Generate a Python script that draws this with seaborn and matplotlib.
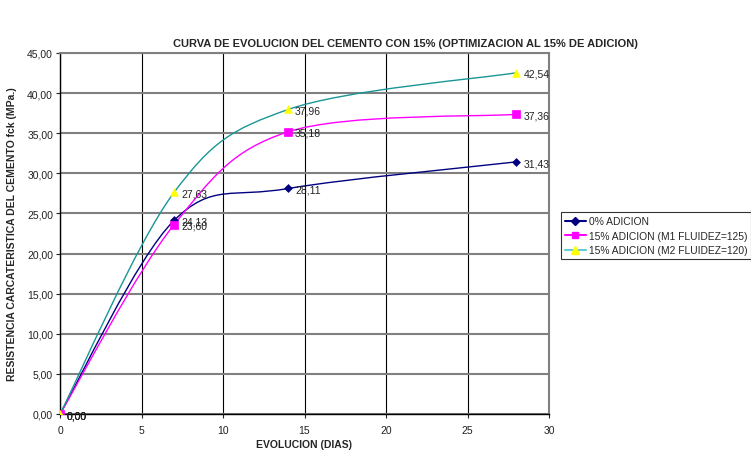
import numpy as np
import pandas as pd
import matplotlib
matplotlib.use("Agg")
import matplotlib.pyplot as plt
from matplotlib.path import Path
from matplotlib.patches import PathPatch
from matplotlib.lines import Line2D
import seaborn as sns

dias = [0, 7, 14, 28]
serie_0 = [0.00, 24.13, 28.11, 31.43]
serie_m1 = [0.00, 23.60, 35.18, 37.36]
serie_m2 = [0.00, 27.63, 37.96, 42.54]
nombres = ["0% ADICION", "15% ADICION (M1 FLUIDEZ=125)", "15% ADICION (M2 FLUIDEZ=120)"]
titulo = "CURVA DE EVOLUCION DEL CEMENTO CON 15% (OPTIMIZACION AL 15% DE ADICION)"

sns.set_theme(style="white")
plt.rcParams['font.family'] = ['Liberation Sans', 'DejaVu Sans']

fig = plt.figure(figsize=(7.51, 4.52), dpi=100)
ax = fig.add_axes([60/751, 1-415/452, (549-60)/751, (415-54)/452])

line_cols = ["#000080", "#FF00FF", "#1A9696"]
marker_face = ["#000080", "#FF00FF", "#FFFF00"]
markers = ["D", "s", "^"]
msizes = [16, 26, 30]
legend_line_cols = ["#000080", "#FF00FF", "#66CCCC"]

def smooth_path(xs, ys):
    pts = np.column_stack([xs, ys]).astype(float)
    n = len(pts)
    verts = [pts[0]]
    codes = [Path.MOVETO]
    for i in range(n - 1):
        p0 = pts[i - 1] if i > 0 else pts[i]
        p1 = pts[i]
        p2 = pts[i + 1]
        p3 = pts[i + 2] if i + 2 < n else pts[i + 1]
        c1 = p1 + (p2 - p0) / 6.0
        c2 = p2 - (p3 - p1) / 6.0
        verts += [c1, c2, p2]
        codes += [Path.CURVE4] * 3
    return Path(verts, codes)

series = [serie_0, serie_m1, serie_m2]
for k, s in enumerate(series):
    ax.add_patch(PathPatch(smooth_path(dias, s), facecolor="none",
                           edgecolor=line_cols[k], lw=1.0, zorder=3))
    df = pd.DataFrame({"x": dias, "y": s})
    sns.scatterplot(data=df, x="x", y="y", ax=ax, marker=markers[k], s=msizes[k],
                    color=marker_face[k], edgecolor=marker_face[k], linewidth=0.5, zorder=4)
    for xv, yv in zip(dias, s):
        ax.annotate(f"{yv:.2f}".replace(".", ","), (xv, yv), xytext=(5, -3),
                    textcoords="offset points", fontsize=7.5, color="#222222", zorder=5)

ax.set_xlim(0, 30)
ax.set_ylim(0, 45)
ax.set_xticks(range(0, 31, 5))
ax.set_yticks(np.arange(0, 46, 5))
ax.set_yticklabels([f"{v:.2f}".replace(".", ",") for v in np.arange(0, 46, 5)])
ax.tick_params(axis="both", labelsize=7.5, colors="#222222", length=3, width=0.8,
               direction="out", left=True, bottom=True, pad=2)
ax.tick_params(axis="x", pad=5)
ax.yaxis.grid(True, color="#808080", lw=1.5)
ax.xaxis.grid(True, color="#000000", lw=0.8)
ax.set_axisbelow(True)
for side in ["top", "right"]:
    ax.spines[side].set_color("#808080")
    ax.spines[side].set_linewidth(1.5)
for side in ["left", "bottom"]:
    ax.spines[side].set_color("#000000")
    ax.spines[side].set_linewidth(1.0)
ax.set_xlabel("EVOLUCION (DIAS)", fontsize=7.5, fontweight="bold", labelpad=3)
ax.set_ylabel("RESISTENCIA CARCATERISTICA DEL CEMENTO fck (MPa.)", fontsize=7.5,
              fontweight="bold", labelpad=7)
fig.text(405/751, 1 - 44/452, titulo, ha="center", va="center", fontsize=8,
         fontweight="bold")

handles = [Line2D([0], [0], color=legend_line_cols[k], lw=1.5, marker=markers[k],
                  markersize=[4, 5, 6][k], markerfacecolor=marker_face[k],
                  markeredgecolor=marker_face[k]) for k in range(3)]
leg = fig.legend(handles, nombres, loc="upper left", bbox_to_anchor=(561/751, 1-213/452),
                 fontsize=7.4, frameon=True, fancybox=False, handlelength=2.0,
                 handletextpad=0.3, borderpad=0.4, labelspacing=0.45, borderaxespad=0)
leg.get_frame().set_edgecolor("#000000")
leg.get_frame().set_linewidth(0.8)

fig.savefig("out.png", dpi=100)
